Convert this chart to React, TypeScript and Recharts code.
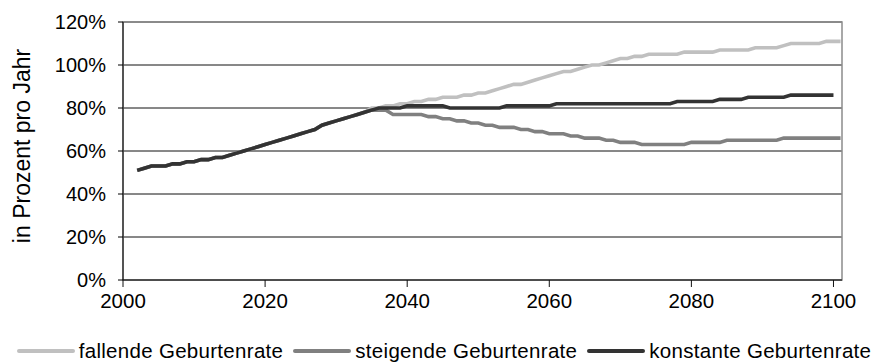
import React from 'react';
import { LineChart, Line, XAxis, YAxis, CartesianGrid, Legend, ReferenceArea } from 'recharts';

const firstYear = 2002;

const fallende = [
  51, 52, 53, 53, 53, 54, 54, 55, 55, 56, 56, 57, 57, 58, 59, 60, 61, 62, 63, 64, 65, 66, 67, 68, 69, 70, 72, 73, 74, 75, 76, 77,
  78, 80, 80, 81, 81, 82, 82, 83, 83, 84, 84, 85, 85, 85, 86, 86, 87, 87, 88, 89, 90, 91, 91, 92, 93, 94, 95, 96, 97, 97, 98, 99,
  100, 100, 101, 102, 103, 103, 104, 104, 105, 105, 105, 105, 105, 106, 106, 106, 106, 106, 107, 107, 107, 107, 107, 108, 108, 108,
  108, 109, 110, 110, 110, 110, 110, 111, 111, 111,
];

const steigende = [
  51, 52, 53, 53, 53, 54, 54, 55, 55, 56, 56, 57, 57, 58, 59, 60, 61, 62, 63, 64, 65, 66, 67, 68, 69, 70, 72, 73, 74, 75, 76, 77,
  78, 79, 79, 79, 77, 77, 77, 77, 77, 76, 76, 75, 75, 74, 74, 73, 73, 72, 72, 71, 71, 71, 70, 70, 69, 69, 68, 68, 68, 67, 67, 66,
  66, 66, 65, 65, 64, 64, 64, 63, 63, 63, 63, 63, 63, 63, 64, 64, 64, 64, 64, 65, 65, 65, 65, 65, 65, 65, 65, 66, 66, 66, 66, 66,
  66, 66, 66, 66,
];

const konstante = [
  51, 52, 53, 53, 53, 54, 54, 55, 55, 56, 56, 57, 57, 58, 59, 60, 61, 62, 63, 64, 65, 66, 67, 68, 69, 70, 72, 73, 74, 75, 76, 77,
  78, 79, 80, 80, 80, 80, 81, 81, 81, 81, 81, 81, 80, 80, 80, 80, 80, 80, 80, 80, 81, 81, 81, 81, 81, 81, 81, 82, 82, 82, 82, 82,
  82, 82, 82, 82, 82, 82, 82, 82, 82, 82, 82, 82, 83, 83, 83, 83, 83, 83, 84, 84, 84, 84, 85, 85, 85, 85, 85, 85, 86, 86, 86, 86,
  86, 86, 86,
];

const xTicks = [2000, 2020, 2040, 2060, 2080, 2100];
const yTicks = [0, 20, 40, 60, 80, 100, 120];

const seriesDefs = [
  { key: 'fallende', name: 'fallende Geburtenrate', color: '#c0c0c0', values: fallende },
  { key: 'steigende', name: 'steigende Geburtenrate', color: '#808080', values: steigende },
  { key: 'konstante', name: 'konstante Geburtenrate', color: '#333333', values: konstante },
];

const data = fallende.map((_, i) => {
  const row: Record<string, number> = { year: firstYear + i };
  seriesDefs.forEach((s) => {
    row[s.key] = s.values[i];
  });
  return row;
});

const FONT = '"Liberation Sans", Arial, sans-serif';

const renderLegend = () => (
  <div
    style={{
      display: 'flex',
      justifyContent: 'center',
      alignItems: 'center',
      height: 24,
      width: 872,
      boxSizing: 'border-box',
      fontFamily: FONT,
      fontSize: 20.5,
      color: '#000',
      letterSpacing: 0.3,
      whiteSpace: 'nowrap',
    }}
  >
    {seriesDefs.map((s, i) => (
      <div key={s.key} style={{ display: 'flex', alignItems: 'center', flexShrink: 0, marginLeft: i === 0 ? 0 : 10 }}>
        <svg width={58} height={10} style={{ flexShrink: 0 }}>
          <line x1={2} x2={56} y1={5} y2={5} stroke={s.color} strokeWidth={4} strokeLinecap="round" />
        </svg>
        <span style={{ marginLeft: 4 }}>{s.name}</span>
      </div>
    ))}
  </div>
);

export default function App() {
  return (
    <div style={{ width: 872, height: 355 }}>
      <LineChart
        width={872}
        height={355}
        data={data}
        margin={{ top: 14, right: 38, bottom: 0, left: 0 }}
      >
        <CartesianGrid horizontal vertical={false} stroke="#111" strokeWidth={1} />
        <ReferenceArea x1={2000} x2={2101.2} y1={0} y2={120} fill="none" stroke="#8c8c8c" strokeWidth={1.5} ifOverflow="visible" />
        <XAxis
          dataKey="year"
          type="number"
          domain={[2000, 2101.2]}
          ticks={xTicks}
          allowDataOverflow
          height={59}
          tickSize={7}
          tickMargin={6}
          axisLine={{ stroke: '#111' }}
          tickLine={{ stroke: '#111' }}
          tick={{ fill: '#000', fontSize: 20.5, fontFamily: FONT }}
        />
        <YAxis
          domain={[0, 120]}
          ticks={yTicks}
          width={115}
          tickSize={5}
          tickMargin={12}
          tickFormatter={(v: number) => `${v}%`}
          axisLine={{ stroke: '#000' }}
          tickLine={{ stroke: '#000' }}
          tick={{ fill: '#000', fontSize: 20, fontFamily: FONT }}
          label={{
            value: 'in Prozent pro Jahr',
            angle: -90,
            position: 'insideLeft',
            offset: 14,
            dy: -5,
            style: { textAnchor: 'middle', fill: '#000', fontSize: 23, fontFamily: FONT },
          }}
        />
        <Legend
          verticalAlign="bottom"
          align="left"
          height={24}
          wrapperStyle={{ left: 0, width: 872 }}
          content={renderLegend}
        />
        {seriesDefs.map((s) => (
          <Line
            key={s.key}
            dataKey={s.key}
            name={s.name}
            type="linear"
            stroke={s.color}
            strokeWidth={3.6}
            dot={false}
            activeDot={false}
            isAnimationActive={false}
          />
        ))}
      </LineChart>
    </div>
  );
}
